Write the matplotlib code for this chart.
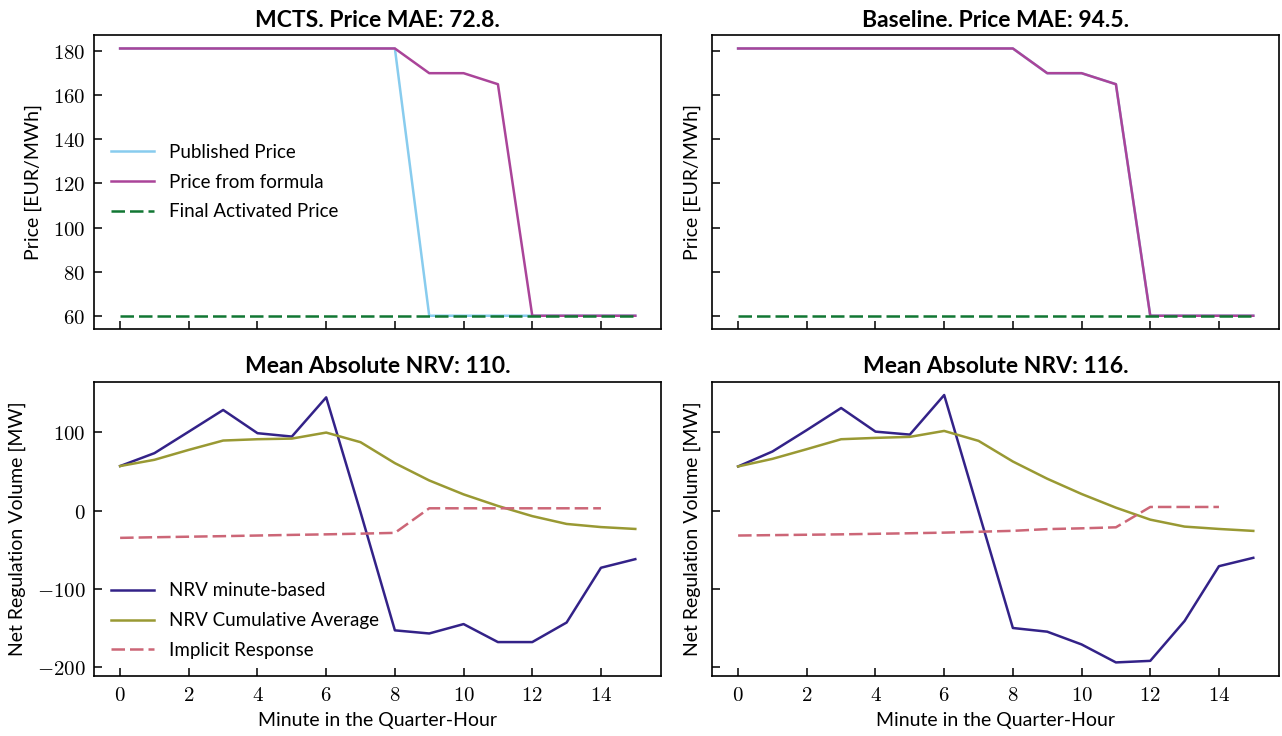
import matplotlib
matplotlib.use("Agg")
import matplotlib.pyplot as plt
from matplotlib.ticker import FuncFormatter

plt.rcParams['font.family'] = ['Lato', 'DejaVu Sans']
plt.rcParams['mathtext.fontset'] = 'cm'

# ---------------- data ----------------
minutes = list(range(16))
minutes_ir = list(range(15))

titles_top = ["MCTS. Price MAE: 72.8.", "Baseline. Price MAE: 94.5."]
titles_bottom = ["Mean Absolute NRV: 110.", "Mean Absolute NRV: 116."]

published_mcts = [181.2]*9 + [60]*7
formula_mcts = [181.2]*9 + [170, 170, 165] + [60]*4
final_mcts = [60]*16

published_base = [181.2]*9 + [170, 170, 165] + [60]*4
formula_base = [181.2]*9 + [170, 170, 165] + [60]*4
final_base = [60]*16

nrv_mcts = [57, 73.5, 101, 128.7, 99, 94.7, 144.8, -2, -153, -157, -145, -168,
            -168, -143, -73, -62]
cum_mcts = [57, 65, 77.7, 89.6, 91.3, 92.1, 99.8, 87.5, 60.7, 38.6, 20.8, 6,
            -7, -17, -21, -23.4]
ir_mcts = [-34.8, -34.0, -33.3, -32.6, -31.8, -31.0, -30.3, -29.4, -28.4,
           3, 3, 3, 3, 3, 3]

nrv_base = [56.5, 75.6, 103, 131.2, 101, 97.2, 147.8, -1, -150, -154.7, -171,
            -194, -192, -141, -71, -60.3]
cum_base = [56.5, 66.2, 78.6, 91.3, 93, 94.3, 101.9, 89.2, 62.8, 40.8, 21.3,
            3.8, -11.5, -20.4, -23.4, -25.9]
ir_base = [-31.8, -31.3, -30.8, -30.3, -29.6, -28.9, -28.1, -27.0, -25.8,
           -23.6, -22.6, -21.3, 4.7, 4.7, 4.7]

x_ticks = [0, 2, 4, 6, 8, 10, 12, 14]
price_ticks = [60, 80, 100, 120, 140, 160, 180]
nrv_ticks = [-200, -100, 0, 100]

# ---------------- styles ----------------
C_PUB = "#88CCEE"
C_FORM = "#AA4499"
C_FINAL = "#117733"
C_NRV = "#332288"
C_CUM = "#999933"
C_IR = "#CC6677"
LW = 1.8
DASH = (5.4, 2.0)

fig, axes = plt.subplots(2, 2, figsize=(12.82, 7.36), dpi=100,
                         sharex=True)
fig.subplots_adjust(left=0.0736, right=0.9977, top=0.9524, bottom=0.0819,
                    wspace=0.0905, hspace=0.178)

math_fmt = FuncFormatter(lambda v, p: f"${v:.0f}$")

top_data = [(published_mcts, formula_mcts, final_mcts),
            (published_base, formula_base, final_base)]
bot_data = [(nrv_mcts, cum_mcts, ir_mcts), (nrv_base, cum_base, ir_base)]

for j in range(2):
    ax = axes[0, j]
    pub, form, fin = top_data[j]
    ax.plot(minutes, pub, color=C_PUB, lw=LW, label="Published Price")
    ax.plot(minutes, form, color=C_FORM, lw=LW, label="Price from formula")
    ax.plot(minutes, fin, color=C_FINAL, lw=LW, dashes=DASH,
            label="Final Activated Price")
    ax.set_title(titles_top[j], fontsize=16.5, fontweight="bold", pad=6)
    ax.set_ylabel("Price [EUR/MWh]", fontsize=14, labelpad=8)
    ax.set_yticks(price_ticks)
    ax.set_ylim(53.9, 187.3)

    ax2 = axes[1, j]
    nrv, cum, ir = bot_data[j]
    ax2.plot(minutes, nrv, color=C_NRV, lw=LW, label="NRV minute-based")
    ax2.plot(minutes, cum, color=C_CUM, lw=LW, label="NRV Cumulative Average")
    ax2.plot(minutes_ir, ir, color=C_IR, lw=LW, dashes=DASH,
             label="Implicit Response")
    ax2.set_title(titles_bottom[j], fontsize=16.5, fontweight="bold", pad=6)
    ax2.set_ylabel("Net Regulation Volume [MW]", fontsize=14, labelpad=8)
    ax2.set_xlabel("Minute in the Quarter-Hour", fontsize=14, labelpad=5)
    ax2.set_yticks(nrv_ticks)
    ax2.set_ylim(-211, 165)

for ax in axes.flat:
    ax.set_xticks(x_ticks)
    ax.set_xlim(-0.75, 15.75)
    ax.xaxis.set_major_formatter(math_fmt)
    ax.yaxis.set_major_formatter(math_fmt)
    ax.tick_params(direction="in", length=6, width=1.1, labelsize=15, pad=6.5)
    for s in ax.spines.values():
        s.set_linewidth(1.2)

for ax in axes[:, 1]:
    ax.tick_params(labelleft=False)
for ax in axes[0, :]:
    ax.tick_params(labelbottom=False)

axes[0, 0].legend(loc="center left", bbox_to_anchor=(0.0, 0.5), frameon=False,
                  fontsize=13.5, handlelength=2.3, handletextpad=0.8,
                  labelspacing=0.68)
axes[1, 0].legend(loc="lower left", frameon=False, fontsize=13.5,
                  handlelength=2.3, handletextpad=0.8, labelspacing=0.68)

fig.savefig("out.png", dpi=100)
